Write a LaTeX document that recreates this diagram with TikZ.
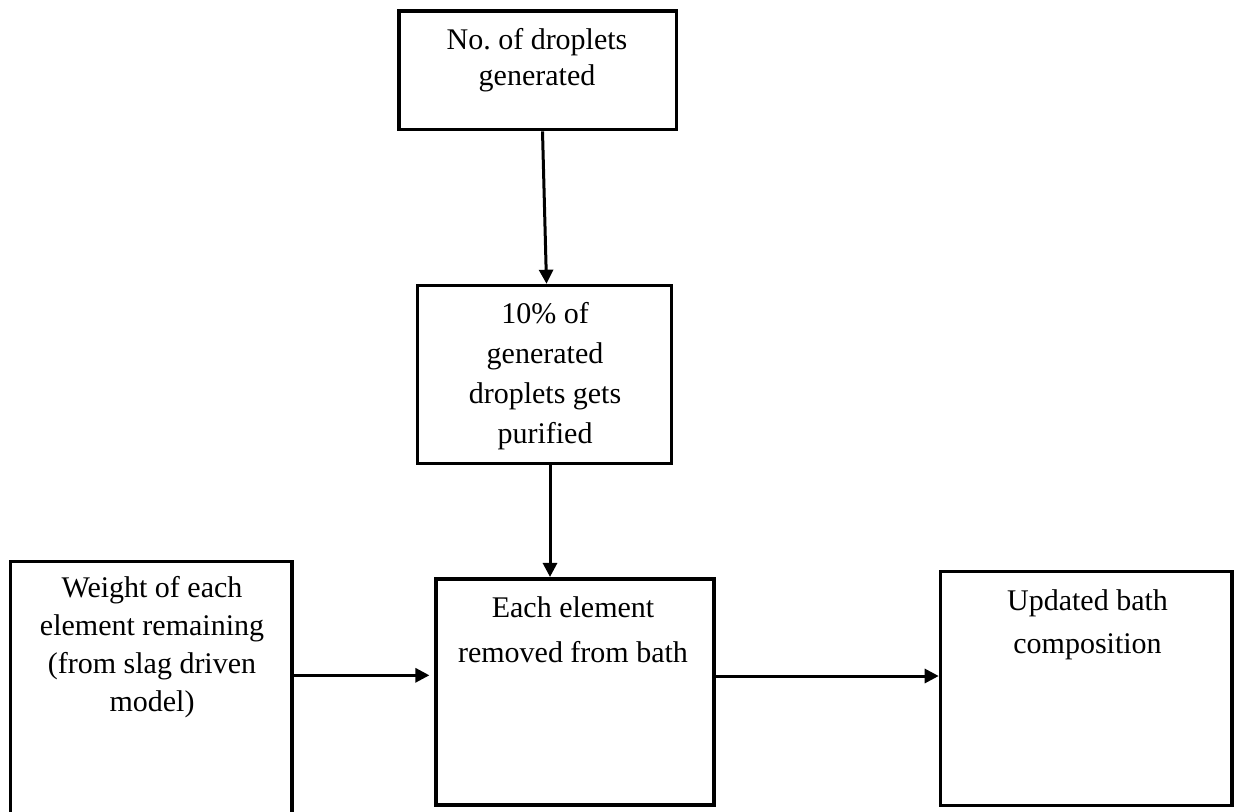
\documentclass[tikz,border=0pt]{standalone}
\usepackage{fontspec}
\setmainfont{Liberation Serif}
\usetikzlibrary{arrows.meta}
\frenchspacing
\begin{document}
\begin{tikzpicture}[x=1pt,y=-1pt,
  box/.style={draw=black, line width=3.6pt, inner sep=0pt},
  txt/.style={anchor=north, inner sep=0pt, align=center, text=black},
  arr/.style={draw=black, line width=3pt, -{Triangle[length=14pt,width=14pt]}}]
\useasboundingbox (0,0) rectangle (1236,811);
% boxes
\node[box, minimum width=277.6pt, minimum height=118.7pt] (A) at (537.5,70.3) {};
\node[box, minimum width=254pt, minimum height=178pt] (B) at (544.5,374.5) {};
\node[box, minimum width=281.7pt, minimum height=258.7pt] (C) at (151.2,690.7) {};
\node[box, minimum width=277.6pt, minimum height=226.5pt] (D) at (575,692) {};
\node[box, minimum width=291.5pt, minimum height=234pt] (E) at (1086.25,688.3) {};
% texts
\node[txt, font=\fontsize{30}{36}\selectfont] (tA) at (537,28) {No.\ of droplets\\generated};
\node[txt, font=\fontsize{30}{40}\selectfont] (tB) at (545,302.5) {10\% of\\generated\\droplets gets\\purified};
\node[txt, font=\fontsize{30}{38}\selectfont] (tC) at (152,576.5) {Weight of each\\element remaining\\(from slag driven\\model)};
\node[txt, font=\fontsize{30}{45}\selectfont] (tD) at (573,596.5) {Each element\\removed from bath};
\node[txt, font=\fontsize{30}{43}\selectfont] (tE) at (1087.5,589.5) {Updated bath\\composition};
% connectors
\draw[arr] ([xshift=5pt]A.south) -- ([xshift=2pt]B.north);
\draw[arr] ([xshift=5.5pt]B.south) -- ([xshift=5.5pt]B.south |- D.north);
\draw[arr, shorten >=5pt] ([yshift=15.4pt]C.east) -- ([yshift=15.4pt]C.east -| D.west);
\draw[arr] ([yshift=16pt]D.east) -- ([yshift=16pt]D.east -| E.west);
\end{tikzpicture}
\end{document}
